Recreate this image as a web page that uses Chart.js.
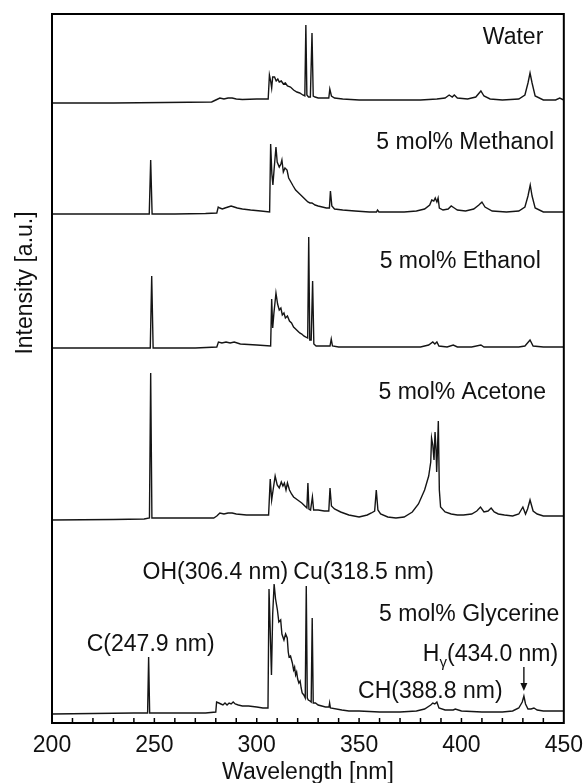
<!DOCTYPE html>
<html>
<head>
<meta charset="utf-8">
<script src="https://cdn.jsdelivr.net/npm/chart.js"></script>
<style>
  body { margin: 0; background: #fff; }
</style>
</head>
<body>
<canvas id="myChart" width="584" height="783"></canvas>
<script>
// spectra: wavelength [nm] and height above each trace's own baseline
const waterNm = [200, 230, 255, 278, 280, 282, 284, 286, 288, 290, 293, 300, 305.6,
    306.2, 306.8, 307.3, 307.8, 308.7, 309.5, 310.3, 311, 312, 313, 314, 315, 316.5, 318, 319.6, 321, 322.5, 323.5,
    324.0, 324.5, 325.3, 326.2, 327.0, 327.6, 328.5, 330, 333, 335.2, 335.7, 336.5, 338, 342, 350, 360, 370, 380,
    388, 392, 394, 395.5, 396.5, 398, 403, 407, 409.5, 411, 414, 420, 428, 431, 432.5, 433.5, 434.5, 436, 440, 446, 448, 450];
const waterI = [0, 0, 0.5, 1, 3, 5, 4, 5, 5, 4, 3.5, 4, 4,
    28, 22, 15, 26, 26, 22, 24, 21, 22, 19, 20, 17, 16, 13, 11, 10, 8, 7,
    78, 8, 6, 6, 70, 7, 6, 5, 5, 5, 14, 7, 5, 4, 3, 3, 3, 3,
    4, 5, 8, 6, 8, 5, 4, 6, 12, 7, 4, 3, 4, 8, 20, 30, 20, 7, 3, 3, 5, 3];

const methanolNm = [200, 220, 240, 247.5, 248.2, 248.9, 260, 275, 280.5, 281.2, 282, 283.2, 284.5, 286, 287.5, 289, 290.5, 293, 297, 302, 306.3,
    306.8, 307.4, 307.9, 308.5, 309.4, 310, 311, 311.8, 312.3, 313, 313.8, 314.8, 315.6, 316.7, 317.8, 319, 320, 321, 322, 323, 324, 325, 326, 327,
    328.5, 330, 332, 334, 335.5, 336, 336.7, 338, 342, 348, 355, 358.5, 359, 359.7, 365, 372, 378, 382, 384.5, 385.5, 386.5, 387.2, 388, 388.6, 389.2,
    391, 393.5, 395, 396.5, 398, 402, 406, 408.5, 410, 411.5, 415, 422, 428, 431, 432.5, 433.6, 434.5, 436, 440, 450];
const methanolI = [0, 0, 0, 0, 54, 0, 0, 0.5, 1, 7, 6, 5, 6, 7, 8, 7, 6, 5, 4, 3, 2,
    70, 40, 29, 45, 67, 52, 47, 50, 54, 42, 46, 44, 36, 32, 28, 24, 22, 20, 18, 16, 14, 12, 11, 11,
    9, 8, 7, 6, 6, 23, 8, 5, 4, 3, 2, 2, 4, 2, 2, 2, 3, 5, 9, 14, 13, 16, 12, 16, 6,
    4, 5, 8, 6, 4, 3, 5, 9, 12, 7, 3, 2, 3, 7, 18, 29, 18, 6, 2, 2];

const ethanolNm = [200, 240, 248, 248.7, 249.4, 270, 280.5, 281.3, 283, 285, 287, 289, 292, 300, 306.8,
    307.3, 307.8, 308.4, 309.4, 310.2, 311, 311.8, 312.5, 313.3, 314, 315, 316, 317, 318, 319, 320, 321, 322, 323, 324, 324.9,
    325.4, 325.9, 326.6, 327.3, 327.9, 329, 332, 335.8, 336.4, 337, 340, 350, 360, 370, 380, 384, 386, 387, 388, 389,
    393, 396, 398, 405, 409.5, 411, 420, 428, 431, 433.5, 435, 440, 450];
const ethanolI = [0, 0, 0, 72, 0, 0, 1, 6, 5, 6, 5, 6, 4, 3, 2,
    49, 20, 35, 55, 44, 38, 40, 33, 35, 30, 32, 27, 25, 21, 19, 17, 15, 14, 12, 11, 10,
    111, 8, 8, 67, 4, 2, 2, 2, 9, 2, 1, 1, 1, 1, 1, 3, 6, 4, 6, 2,
    1, 3, 1, 1, 3, 1, 1, 1, 2, 8, 2, 1, 1];

const acetoneNm = [200, 230, 245, 247.6, 248.2, 248.8, 255, 270, 279, 280.5, 282, 284, 286, 288, 290, 295, 300, 305.8,
    306.6, 307.3, 308, 309, 310, 311, 312, 312.8, 313.5, 314.3, 315, 316, 317, 318, 320, 322, 323.5, 324.5, 325, 325.5, 326.3,
    327.2, 327.8, 330, 333, 335.2, 335.8, 336.5, 338, 341, 345, 350, 354, 356, 357.6, 358.4, 359.2, 360.5, 364, 368, 372, 376,
    379, 382, 384, 385, 385.4, 386, 386.6, 387.1, 387.6, 387.9, 388.3, 388.7, 389.2, 389.8, 392, 395, 398, 401, 405, 407.5,
    409.3, 411, 413, 414.5, 416, 418, 421, 425, 428, 430, 431.3, 432.3, 433.5, 435, 437, 440, 445, 450];
const acetoneI = [0, 0.5, 1, 2, 147, 2, 2, 2, 2, 4, 7, 6, 7, 7, 6, 5, 5, 5,
    41, 20, 30, 44, 35, 32, 38, 34, 37, 30, 37, 30, 26, 23, 20, 17, 14, 12, 37, 11, 10,
    23, 10, 10, 9, 9, 32, 14, 11, 8, 5, 3, 5, 7, 9, 30, 10, 6, 3, 2, 3, 8,
    16, 30, 44, 58, 82, 75, 60, 88, 70, 48, 70, 99, 30, 13, 8, 6, 5, 5, 6, 9,
    13, 8, 9, 12, 8, 6, 5, 4, 6, 13, 6, 11, 20, 9, 6, 4, 4, 4];

const glycerineNm = [200, 220, 240, 246.7, 247.2, 247.7, 260, 275, 280, 280.4, 281.5, 282.5, 283.5, 284.5, 285.5, 286.5, 287.5, 288.5, 289.5,
    291, 293, 296, 300, 303, 305.5,
    306.0, 306.5, 307.2, 307.8, 308.5, 309.2, 310.1, 310.8, 311.7, 312.3, 313.3, 314.1, 314.9, 315.4, 315.8, 316.5, 317.4, 318, 318.5,
    319, 319.5, 320, 320.6, 321.2, 321.7, 322.2, 323, 323.7, 324.2, 324.7, 325.2, 326, 326.6, 327.1, 327.6, 328.7, 330, 333.6, 335.3,
    335.6, 336, 341.6, 345, 350, 360, 370, 378, 382, 385, 386, 387, 388, 389, 392, 396, 397, 400, 410, 420, 425, 428, 429.7,
    430.5, 431.3, 432.5, 434, 435.4, 437, 440, 445, 450];
const glycerineI = [0, 0.5, 1, 1, 57, 1, 1, 1, 2, 12, 11, 10, 9, 11, 9, 11, 10, 12, 10,
    9, 8, 8, 7, 6, 6,
    125, 90, 39, 100, 130, 115, 104, 92, 94, 80, 74, 80, 76, 62, 57, 58, 51, 44, 47,
    39, 42, 35, 31, 33, 26, 21, 19, 16, 128, 16, 14, 13, 12, 96, 11, 11, 9, 7, 7,
    11, 6, 4, 3, 3, 2, 2, 3, 5, 9, 11, 10, 12, 6, 4, 4, 5, 3, 2, 2, 3, 6, 12,
    18, 10, 5, 5, 6, 4, 3, 3, 3];

// vertical offset of each trace in the stack (axis units)
const offsets = [620, 509, 375, 203, 9];
const seriesNames = ['Water', '5 mol% Methanol', '5 mol% Ethanol', '5 mol% Acetone', '5 mol% Glycerine'];
const xTicks = [200, 250, 300, 350, 400, 450];

const FONT = '"Liberation Sans", Arial, sans-serif';
const FSIZE = 23;

function toPoints(nm, vals, off) {
    return nm.map((x, i) => ({ x: x, y: vals[i] + off }));
}

const allSeries = [
    [waterNm, waterI], [methanolNm, methanolI], [ethanolNm, ethanolI],
    [acetoneNm, acetoneI], [glycerineNm, glycerineI]
];

const datasets = allSeries.map((s, i) => ({
    label: seriesNames[i],
    data: toPoints(s[0], s[1], offsets[i]),
    borderColor: '#151515',
    borderWidth: 1.4,
    pointRadius: 0,
    tension: 0,
    fill: false
}));

// texts in the plot, anchored in data units (nm, axis value)
const notes = [
    { text: 'Water', x: 425.2, y: 685 },
    { text: '5 mol% Methanol', x: 401.8, y: 580 },
    { text: '5 mol% Ethanol', x: 399.4, y: 461 },
    { text: '5 mol% Acetone', x: 400.4, y: 330 },
    { text: '5 mol% Glycerine', x: 403.8, y: 108 },
    { text: 'OH(306.4 nm)', x: 279.8, y: 150 },
    { text: 'Cu(318.5 nm)', x: 352.2, y: 150 },
    { text: 'C(247.9 nm)', x: 248.2, y: 78 },
    { text: 'CH(388.8 nm)', x: 384.8, y: 31 }
];

const framePlugin = {
    id: 'frame',
    afterDraw(chart) {
        const ctx = chart.ctx;
        const a = chart.chartArea;
        const xs = chart.scales.x;
        const ys = chart.scales.y;
        const f = FSIZE + 'px ' + FONT;
        ctx.save();
        ctx.strokeStyle = '#000';
        // inward minor ticks every 10 nm
        ctx.lineWidth = 1.5;
        for (let v = 210; v < 450; v += 10) {
            const px = xs.getPixelForValue(v);
            ctx.beginPath();
            ctx.moveTo(px, a.bottom);
            ctx.lineTo(px, a.bottom - 5);
            ctx.stroke();
        }
        // box
        ctx.lineWidth = 2;
        ctx.strokeRect(a.left, a.top, a.right - a.left, a.bottom - a.top);

        ctx.fillStyle = '#111';
        ctx.font = f;
        ctx.textAlign = 'center';
        ctx.textBaseline = 'middle';
        notes.forEach(n => {
            ctx.fillText(n.text, xs.getPixelForValue(n.x), ys.getPixelForValue(n.y));
        });

        // H gamma label with subscript
        const hx = xs.getPixelForValue(414.2);
        const hy = ys.getPixelForValue(68);
        ctx.font = f;
        const wH = ctx.measureText('H').width;
        const wRest = ctx.measureText('(434.0 nm)').width;
        ctx.font = '15px ' + FONT;
        const wG = ctx.measureText('γ').width;
        let sx = hx - (wH + wG + wRest) / 2;
        ctx.textAlign = 'left';
        ctx.font = f;
        ctx.fillText('H', sx, hy);
        ctx.font = '15px ' + FONT;
        ctx.fillText('γ', sx + wH, hy + 8);
        ctx.font = f;
        ctx.fillText('(434.0 nm)', sx + wH + wG, hy);

        // arrow down to the H gamma line
        const ax = xs.getPixelForValue(430.5);
        const ay1 = ys.getPixelForValue(56);
        const ay2 = ys.getPixelForValue(32);
        ctx.lineWidth = 1.3;
        ctx.beginPath();
        ctx.moveTo(ax, ay1);
        ctx.lineTo(ax, ay2 - 6);
        ctx.stroke();
        ctx.beginPath();
        ctx.moveTo(ax - 3.5, ay2 - 8);
        ctx.lineTo(ax + 3.5, ay2 - 8);
        ctx.lineTo(ax, ay2);
        ctx.closePath();
        ctx.fill();

        // y axis title, sits beside the ethanol trace
        ctx.save();
        ctx.translate(26, ys.getPixelForValue(440));
        ctx.rotate(-Math.PI / 2);
        ctx.textAlign = 'center';
        ctx.font = f;
        ctx.fillText('Intensity [a.u.]', 0, 0);
        ctx.restore();
        ctx.restore();
    }
};

const ctx = document.getElementById('myChart').getContext('2d');
const chart = new Chart(ctx, {
    type: 'line',
    data: { datasets: datasets },
    options: {
        responsive: false,
        animation: false,
        layout: { padding: { top: 14, right: 9, left: 0, bottom: 0 } },
        plugins: {
            legend: { display: false },
            tooltip: { enabled: false }
        },
        scales: {
            x: {
                type: 'linear',
                min: 200,
                max: 450,
                grid: { display: false },
                border: { display: false },
                ticks: {
                    stepSize: 10,
                    autoSkip: false,
                    maxRotation: 0,
                    padding: 1,
                    color: '#111',
                    font: { size: FSIZE, family: FONT },
                    callback: v => xTicks.includes(v) ? v : ''
                },
                title: {
                    display: true,
                    text: 'Wavelength [nm]',
                    color: '#111',
                    font: { size: FSIZE, family: FONT },
                    padding: { top: 0, bottom: -3 }
                },
                afterFit(scale) { scale.height = 60; }
            },
            y: {
                min: 0,
                max: 709,
                grid: { display: false },
                border: { display: false },
                ticks: { display: false },
                afterFit(scale) { scale.width = 52; }
            }
        }
    },
    plugins: [framePlugin]
});
</script>
</body>
</html>
